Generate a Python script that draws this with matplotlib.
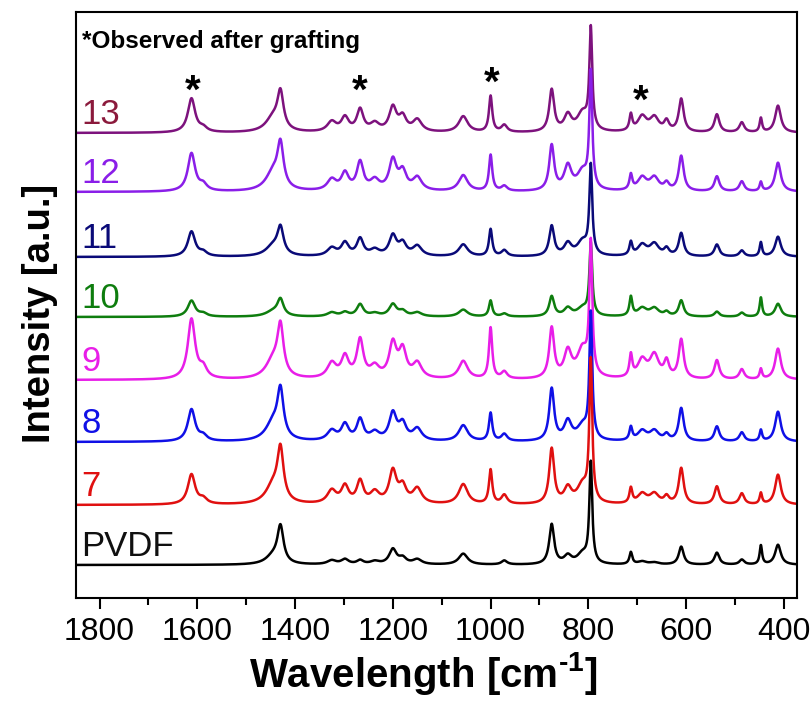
import matplotlib
matplotlib.use("Agg")
import matplotlib.pyplot as plt
import numpy as np
from matplotlib.ticker import MultipleLocator

# Raman bands (cm^-1) and their half widths, shared by every spectrum
PEAK_POS = [1612, 1588, 1445, 1430, 1325, 1298, 1267, 1237, 1200, 1180, 1150,
            1056, 1000, 972, 875, 842, 812, 795, 713, 690, 665, 640, 610,
            537, 486, 447, 412]
PEAK_HWHM = [9, 9, 18, 7.5, 11, 9, 8, 11, 9, 9, 11,
             11, 4, 7, 6, 9, 13, 3.5, 3.5, 11, 11, 6, 6,
             6, 6, 3, 7]

# band intensities per sample (a.u.)
SAMPLES = ["13", "12", "11", "10", "9", "8", "7", "PVDF"]
I_13 = [34, 4, 14, 36, 10, 14, 22, 8, 24, 14, 12, 16, 36, 7, 42, 16, 18, 100, 16, 15, 14, 10, 33, 18, 10, 14, 27]
I_12 = [38, 6, 18, 42, 11, 17, 28, 10, 30, 18, 13, 16, 36, 5, 45, 24, 18, 115, 15, 13, 13, 7, 35, 15, 10, 9, 29]
I_11 = [25, 4, 10, 26, 8, 13, 17, 6, 20, 12, 10, 12, 27, 6, 30, 12, 14, 88, 13, 11, 12, 7, 23, 12, 6, 14, 20]
I_10 = [16, 3, 5, 16, 4, 4, 12, 3, 12, 5, 4, 7, 16, 3, 20, 8, 8, 72, 19, 8, 8, 4, 16, 5, 4, 19, 13]
I_9 = [60, 10, 18, 48, 15, 21, 38, 11, 34, 27, 15, 18, 51, 7, 50, 26, 28, 130, 22, 18, 23, 16, 39, 19, 10, 10, 31]
I_8 = [32, 5, 18, 46, 10, 16, 21, 8, 27, 16, 12, 16, 28, 7, 52, 19, 14, 125, 13, 10, 10, 6, 33, 15, 9, 11, 30]
I_7 = [30, 5, 18, 50, 13, 17, 22, 11, 32, 16, 15, 20, 34, 9, 55, 15, 18, 140, 15, 10, 10, 7, 36, 18, 11, 11, 30]
I_PVDF = [0, 0, 8, 36, 4, 5, 4, 3, 15, 6, 5, 11, 0, 4, 40, 8, 10, 100, 12, 3, 2, 0, 18, 12, 5, 19, 20]
INTENSITIES = [I_13, I_12, I_11, I_10, I_9, I_8, I_7, I_PVDF]

# vertical stacking offsets
OFFSETS = [465, 406, 341, 281, 218, 156, 93, 33]

LINE_COLORS = ["#7d127d", "#8a1ee8", "#0a0a78", "#0e7d0e", "#e81ee8", "#1010e6", "#e01010", "#000000"]
LABEL_COLORS = ["#8b1a3c", "#8a1ee8", "#0a0a78", "#0e7d0e", "#e81ee8", "#1010e6", "#e01010", "#101010"]

# bands that appear after grafting
GRAFT_BANDS = [1610, 1267, 997, 692]
GRAFT_MARK_Y = [506, 506, 514, 496]

plt.rcParams["font.family"] = ["Liberation Sans", "DejaVu Sans"]
plt.rcParams["mathtext.fontset"] = "custom"
plt.rcParams["mathtext.rm"] = "Liberation Sans:bold"


def spectrum(x, heights):
    y = np.zeros_like(x)
    for c, w, h in zip(PEAK_POS, PEAK_HWHM, heights):
        y += h / (1.0 + ((x - c) / w) ** 2)
    return y


fig = plt.figure(figsize=(8.1, 7.04), dpi=100)
ax = fig.add_axes([0.094, 0.1506, 0.890, 0.8324])

x = np.linspace(1848, 373, 4000)
for name, heights, off, lc, tc in zip(SAMPLES, INTENSITIES, OFFSETS, LINE_COLORS, LABEL_COLORS):
    ax.plot(x, spectrum(x, heights) + off, color=lc, lw=1.8)
    ax.text(1838, off + 9, name, color=tc, fontsize=25, ha="left", va="baseline")

for bx, by in zip(GRAFT_BANDS, GRAFT_MARK_Y):
    ax.text(bx, by, "*", fontsize=29, fontweight="bold", ha="center", va="center")

ax.text(0.008, 0.949, "*Observed after grafting", transform=ax.transAxes,
        fontsize=17.5, fontweight="bold", ha="left", va="center")

ax.set_xlim(1848, 373)
ax.set_ylim(0, 586)
ax.xaxis.set_major_locator(MultipleLocator(200))
ax.xaxis.set_minor_locator(MultipleLocator(100))
ax.tick_params(axis="x", which="major", direction="out", length=8, width=1.5,
               labelsize=23, pad=6, top=False)
ax.tick_params(axis="x", which="minor", direction="out", length=5, width=1.5, top=False)
ax.tick_params(axis="y", left=False, right=False, labelleft=False)
for sp in ax.spines.values():
    sp.set_linewidth(1.5)

ax.set_xlabel("Wavelength [cm$^{\\text{-1}}$]", fontsize=29, fontweight="bold")
ax.xaxis.set_label_coords(0.481, -0.088)
ax.set_ylabel("Intensity [a.u.]", fontsize=27.5, fontweight="bold")
ax.yaxis.set_label_coords(-0.025, 0.485)

fig.savefig("out.png", dpi=100)
